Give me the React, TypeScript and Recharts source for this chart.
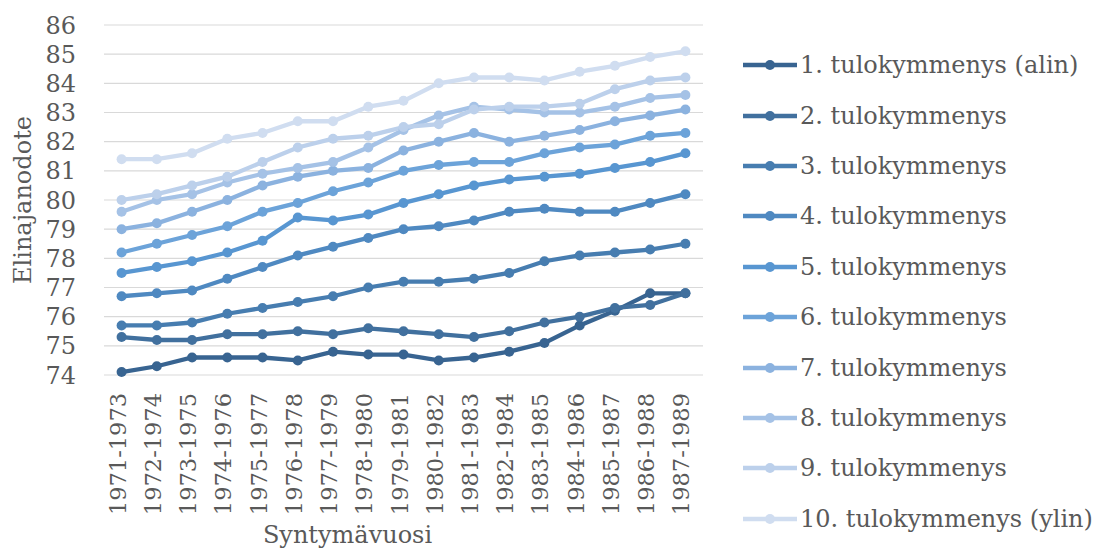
import { LineChart, Line, XAxis, YAxis, CartesianGrid, Legend, Label } from 'recharts'

const periods = [
  '1971-1973', '1972-1974', '1973-1975', '1974-1976', '1975-1977', '1976-1978',
  '1977-1979', '1978-1980', '1979-1981', '1980-1982', '1981-1983', '1982-1984',
  '1983-1985', '1984-1986', '1985-1987', '1986-1988', '1987-1989',
]

const dec1 = [74.1, 74.3, 74.6, 74.6, 74.6, 74.5, 74.8, 74.7, 74.7, 74.5, 74.6, 74.8, 75.1, 75.7, 76.2, 76.8, 76.8]
const dec2 = [75.3, 75.2, 75.2, 75.4, 75.4, 75.5, 75.4, 75.6, 75.5, 75.4, 75.3, 75.5, 75.8, 76.0, 76.3, 76.4, 76.8]
const dec3 = [75.7, 75.7, 75.8, 76.1, 76.3, 76.5, 76.7, 77.0, 77.2, 77.2, 77.3, 77.5, 77.9, 78.1, 78.2, 78.3, 78.5]
const dec4 = [76.7, 76.8, 76.9, 77.3, 77.7, 78.1, 78.4, 78.7, 79.0, 79.1, 79.3, 79.6, 79.7, 79.6, 79.6, 79.9, 80.2]
const dec5 = [77.5, 77.7, 77.9, 78.2, 78.6, 79.4, 79.3, 79.5, 79.9, 80.2, 80.5, 80.7, 80.8, 80.9, 81.1, 81.3, 81.6]
const dec6 = [78.2, 78.5, 78.8, 79.1, 79.6, 79.9, 80.3, 80.6, 81.0, 81.2, 81.3, 81.3, 81.6, 81.8, 81.9, 82.2, 82.3]
const dec7 = [79.0, 79.2, 79.6, 80.0, 80.5, 80.8, 81.0, 81.1, 81.7, 82.0, 82.3, 82.0, 82.2, 82.4, 82.7, 82.9, 83.1]
const dec8 = [79.6, 80.0, 80.2, 80.6, 80.9, 81.1, 81.3, 81.8, 82.4, 82.9, 83.2, 83.1, 83.0, 83.0, 83.2, 83.5, 83.6]
const dec9 = [80.0, 80.2, 80.5, 80.8, 81.3, 81.8, 82.1, 82.2, 82.5, 82.6, 83.1, 83.2, 83.2, 83.3, 83.8, 84.1, 84.2]
const dec10 = [81.4, 81.4, 81.6, 82.1, 82.3, 82.7, 82.7, 83.2, 83.4, 84.0, 84.2, 84.2, 84.1, 84.4, 84.6, 84.9, 85.1]

const seriesNames = [
  '1. tulokymmenys (alin)', '2. tulokymmenys', '3. tulokymmenys', '4. tulokymmenys',
  '5. tulokymmenys', '6. tulokymmenys', '7. tulokymmenys', '8. tulokymmenys',
  '9. tulokymmenys', '10. tulokymmenys (ylin)',
]

const yTicks = [74, 75, 76, 77, 78, 79, 80, 81, 82, 83, 84, 85, 86]

const colors = [
  '#386491', '#41709e', '#477db0', '#4f89c1', '#5896d1',
  '#6ca3d9', '#8bb2df', '#a5c2e6', '#bcd0eb', '#d0ddf0',
]

const allSeries = [dec1, dec2, dec3, dec4, dec5, dec6, dec7, dec8, dec9, dec10]

const data = periods.map((period, i) => {
  const row: Record<string, string | number> = { period }
  allSeries.forEach((s, k) => { row[`d${k + 1}`] = s[i] })
  return row
})

const FONT = '"DejaVu Serif", serif'
const TEXT = '#595959'

function PeriodTick({ x, y, payload }: any) {
  return (
    <text
      x={x}
      y={y}
      dy={4}
      transform={`rotate(-90, ${x}, ${y})`}
      textAnchor="end"
      fill={TEXT}
      fontSize={22.5}
      fontFamily={FONT}
    >
      {payload.value}
    </text>
  )
}

function YTitle({ viewBox }: any) {
  const cx = viewBox.x + 23
  const cy = viewBox.y + viewBox.height / 2
  return (
    <text x={cx} y={cy} dy="0.35em" transform={`rotate(-90, ${cx}, ${cy})`}
      textAnchor="middle" fill={TEXT} fontSize={24} fontFamily={FONT}>
      Elinajanodote
    </text>
  )
}

function XTitle({ viewBox }: any) {
  const cx = viewBox.x + viewBox.width / 2 - 56
  const cy = viewBox.y + viewBox.height - 10
  return (
    <text x={cx} y={cy} textAnchor="middle" fill={TEXT} fontSize={24} fontFamily={FONT}>
      Syntymävuosi
    </text>
  )
}

// legend keeps the series order (1..10), not the library's sorted payload
function LegendList() {
  return (
    <div style={{ fontFamily: FONT, fontSize: 24, color: TEXT }}>
      {seriesNames.map((name, k) => (
        <div key={name} style={{ height: 50.4, display: 'flex', alignItems: 'center', whiteSpace: 'nowrap' }}>
          <svg width={55} height={14} style={{ flex: 'none' }}>
            <line x1={0} y1={7} x2={54} y2={7} stroke={colors[k]} strokeWidth={4.5} />
            <circle cx={27} cy={7} r={5} fill={colors[k]} />
          </svg>
          <span style={{ marginLeft: 2 }}>{name}</span>
        </div>
      ))}
    </div>
  )
}

export default function App() {
  return (
    <div style={{ position: 'absolute', left: 0, top: 0, background: '#fff' }}>
      <LineChart width={1106} height={553} data={data}
        margin={{ top: 25, right: 403, bottom: 0, left: 0 }}>
        <CartesianGrid vertical={false} stroke="#d9d9d9" strokeWidth={1.2} />
        <XAxis
          dataKey="period"
          interval={0}
          height={178}
          axisLine={false}
          tickLine={false}
          tickSize={0}
          tickMargin={18}
          padding={{ left: 17.6, right: 17.6 }}
          tick={<PeriodTick />}
        >
          <Label content={<XTitle />} />
        </XAxis>
        <YAxis
          width={104}
          domain={[74, 86]}
          ticks={yTicks}
          interval={0}
          axisLine={false}
          tickLine={false}
          tickSize={0}
          tickMargin={28}
          tick={{ fontSize: 24, fill: TEXT, fontFamily: FONT }}
        >
          <Label content={<YTitle />} />
        </YAxis>
        <Legend
          layout="horizontal"
          align="center"
          verticalAlign="middle"
          content={<LegendList />}
          wrapperStyle={{ left: 743, top: 40, width: 363, height: 510 }}
        />
        {seriesNames.map((name, k) => (
          <Line
            key={name}
            dataKey={`d${k + 1}`}
            name={name}
            stroke={colors[k]}
            strokeWidth={4.3}
            dot={{ r: 5, fill: colors[k], stroke: 'none' }}
            activeDot={false}
            isAnimationActive={false}
          />
        ))}
      </LineChart>
    </div>
  )
}
